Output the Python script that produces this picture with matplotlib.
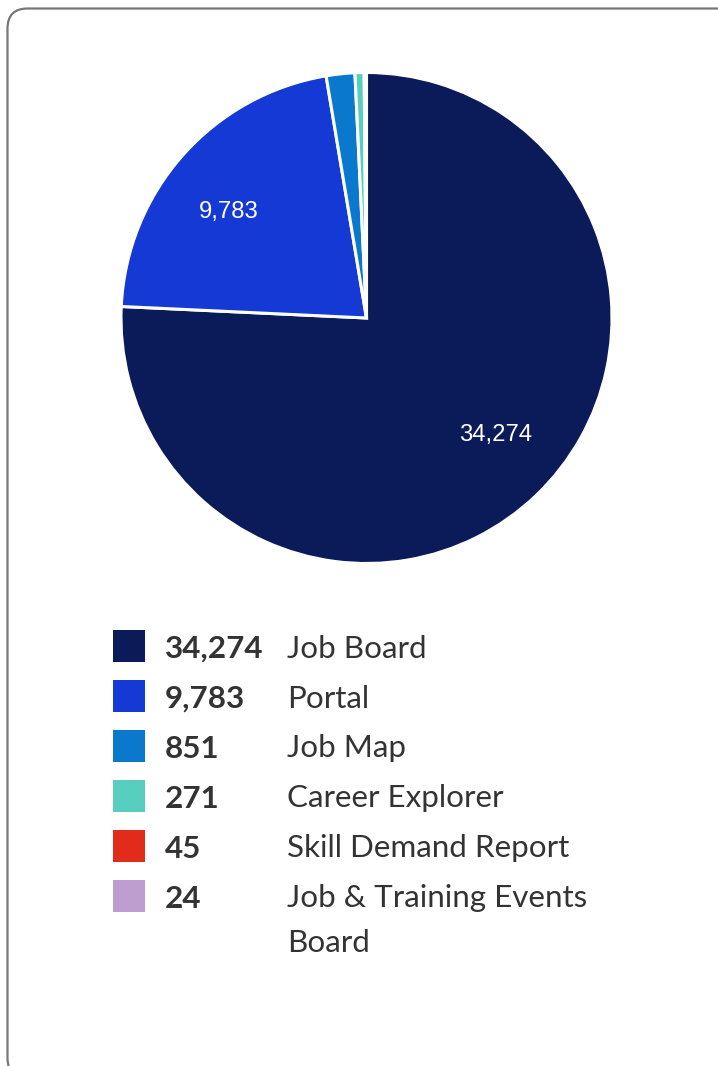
import numpy as np
import matplotlib
matplotlib.use("Agg")
import matplotlib.pyplot as plt
from matplotlib.patches import FancyBboxPatch, Rectangle

categories = ["Job Board", "Portal", "Job Map", "Career Explorer", "Skill Demand Report", "Job & Training Events\nBoard"]
values = [34274, 9783, 851, 271, 45, 24]
colors = ["#0b1a58", "#1439d4", "#0a78cc", "#57cec0", "#e32b1b", "#bf9dd0"]

W, H = 718, 1066
fig = plt.figure(figsize=(W / 100, H / 100), dpi=100)
fig.patch.set_facecolor("white")

# card border
card = FancyBboxPatch((7.5 / W, 1 - 1078 / H), (738 - 7.5) / W, (1078 - 8.5) / H,
                      boxstyle="round,pad=0,rounding_size=0.028",
                      transform=fig.transFigure, facecolor="none",
                      edgecolor="#777777", linewidth=1.6, mutation_aspect=W / H)
fig.patches.append(card)

# pie
cx, cy, r = 366.5, 318, 245.5
ax = fig.add_axes([(cx - r) / W, 1 - (cy + r) / H, 2 * r / W, 2 * r / H])
total = sum(values)

wedges, texts = ax.pie(values, colors=colors, startangle=90, counterclock=False, radius=1,
                       wedgeprops=dict(edgecolor="white", linewidth=2.2, clip_on=False))
for w, v in zip(wedges, values):
    if v / total > 0.10:
        mid = np.deg2rad((w.theta1 + w.theta2) / 2 + 4)
        ax.text(0.71 * np.cos(mid), 0.71 * np.sin(mid), f"{v:,}", color="white",
                fontsize=17.2, family="Liberation Sans", ha="center", va="center")
ax.set_xlim(-1, 1)
ax.set_ylim(-1, 1)
ax.set_aspect("equal")
ax.axis("off")

# legend
row_y = [646, 696, 746, 796, 846, 896]
fs = 22.6
for i, (cat, val, col) in enumerate(zip(categories, values, colors)):
    y = row_y[i]
    fig.patches.append(Rectangle((113 / W, 1 - (y + 16) / H), 32 / W, 32 / H,
                                 transform=fig.transFigure, facecolor=col, edgecolor="none"))
    fig.text(165 / W, 1 - y / H, f"{val:,}", fontsize=fs, fontweight="bold",
             color="#333333", va="center_baseline", ha="left", family="Lato")
    lines = cat.split("\n")
    for j, line in enumerate(lines):
        fig.text(287 / W, 1 - (y + 44 * j) / H, line, fontsize=fs, color="#333333",
                 va="center_baseline", ha="left", family="Lato")

fig.savefig("out.png", dpi=100, facecolor="white")
